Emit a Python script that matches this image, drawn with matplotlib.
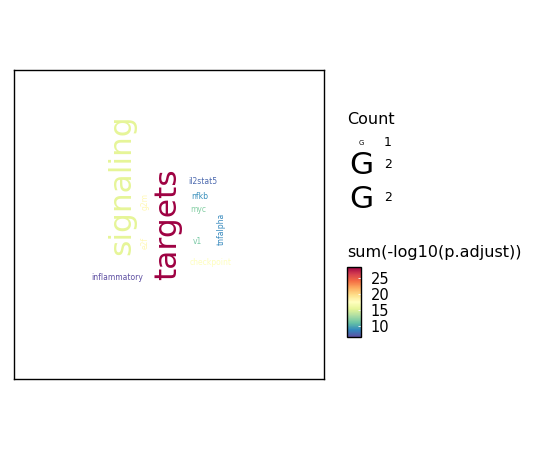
import numpy as np
import matplotlib
matplotlib.use("Agg")
import matplotlib.pyplot as plt
from matplotlib.colors import Normalize

# word cloud data
words = ["signaling", "targets", "il2stat5", "nfkb", "myc", "tnfalpha",
         "v1", "checkpoint", "inflammatory", "g2m", "e2f"]
score = [15.3, 28.4, 7.6, 9.0, 12.0, 8.8, 11.6, 17.4, 6.6, 18.0, 18.0]
count = [2, 2, 1, 1, 1, 1, 1, 1, 1, 1, 1]

# layout of the cloud (axes fraction) and rotation
pos_x = [0.348, 0.495, 0.610, 0.598, 0.595, 0.669, 0.590, 0.634, 0.334, 0.424, 0.424]
pos_y = [0.629, 0.502, 0.639, 0.589, 0.547, 0.485, 0.445, 0.377, 0.328, 0.574, 0.439]
angle = [90, 90, 0, 0, 0, 90, 0, 0, 0, 90, 90]

legend_counts = [1, 2, 2]
cbar_ticks = [10, 15, 20, 25]

size_for = {1: 5.5, 2: 22.5}

fig = plt.figure(figsize=(5.5, 4.5), dpi=100)
ax = fig.add_axes([14 / 550, 71 / 450, 310 / 550, 309 / 450])
ax.set_xlim(0, 1)
ax.set_ylim(0, 1)
ax.set_xticks([])
ax.set_yticks([])
for s in ax.spines.values():
    s.set_linewidth(1.0)
    s.set_color("black")

cmap = plt.get_cmap("Spectral_r")
norm = Normalize(vmin=min(score), vmax=max(score))

for w, v, c, x, y, a in zip(words, score, count, pos_x, pos_y, angle):
    ax.text(x, y, w, rotation=a, ha="center", va="center",
            fontsize=size_for[c], color=cmap(norm(v)))

# Count legend
fig.text(347 / 550, 1 - 120 / 450, "Count", fontsize=11.5, va="center", ha="left")
leg_y = [143, 166, 199]
for n, py in zip(legend_counts, leg_y):
    fig.text(361 / 550, 1 - py / 450, "G", fontsize=5.0 if n == 1 else 22.5,
             ha="center", va="center")
    fig.text(384 / 550, 1 - (py - 1) / 450, str(n), fontsize=9, ha="left", va="center")

# colour bar
fig.text(347 / 550, 1 - 253 / 450, "sum(-log10(p.adjust))", fontsize=11.5, va="center", ha="left")
cax = fig.add_axes([347 / 550, 1 - 337 / 450, 14 / 550, 70 / 450])
sm = plt.cm.ScalarMappable(norm=norm, cmap=cmap)
cb = fig.colorbar(sm, cax=cax, ticks=cbar_ticks)
cb.outline.set_linewidth(1.0)
cb.ax.tick_params(labelsize=10.5, length=2.5, width=0.6, direction="in", color="white", pad=7)

fig.savefig("out.png", dpi=100)
